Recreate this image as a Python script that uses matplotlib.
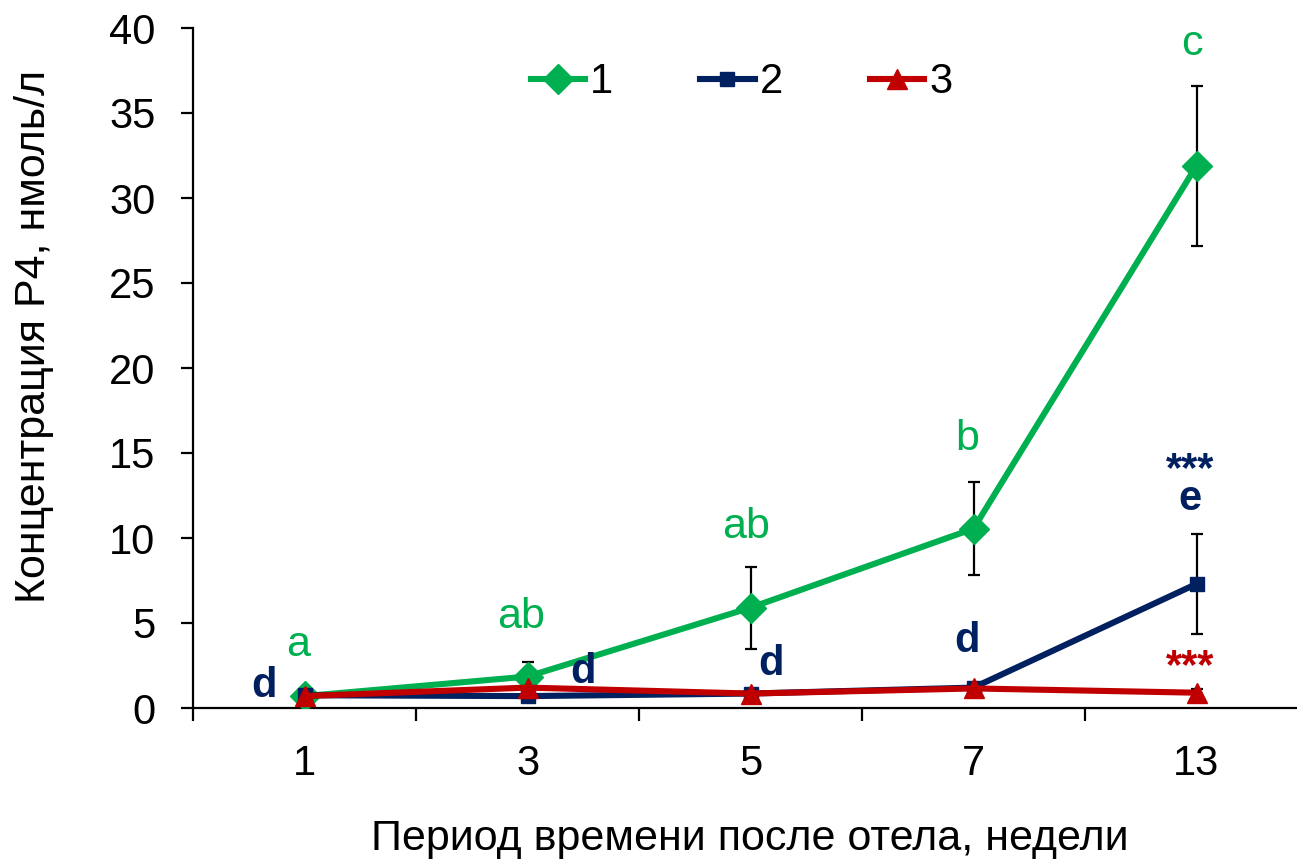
import matplotlib
matplotlib.use('Agg')
import matplotlib.pyplot as plt

plt.rcParams['font.family'] = ['Liberation Sans', 'DejaVu Sans']

weeks = ['1', '3', '5', '7', '13']
group1 = [0.7, 1.85, 5.9, 10.55, 31.9]
group1_err = [0.2, 0.85, 2.4, 2.75, 4.7]
group2 = [0.75, 0.7, 0.85, 1.2, 7.3]
group2_err = [0.2, 0.2, 0.2, 0.3, 2.95]
group3 = [0.7, 1.2, 0.85, 1.15, 0.9]
group3_err = [0.2, 0.3, 0.2, 0.2, 0.2]

green = '#00B050'
navy = '#002060'
red = '#C00000'

fig = plt.figure(figsize=(12.97, 8.61), dpi=100)
ax = fig.add_axes([193 / 1297, 153 / 861, 1115 / 1297, 680 / 861])

x = list(range(len(weeks)))

for vals, errs, col, mk, ms, lbl, z in [
        (group1, group1_err, green, 'D', 15, '1', 3),
        (group2, group2_err, navy, 's', 10, '2', 4),
        (group3, group3_err, red, '^', 15, '3', 5)]:
    ax.errorbar(x, vals, yerr=errs, fmt='none', ecolor='black', elinewidth=1.6,
                capsize=4.5, capthick=1.6, zorder=2)
    ax.plot(x, vals, color=col, lw=4.4, marker=mk, ms=ms, label=lbl, zorder=z)

ax.set_xlim(-0.5, 4.5)
ax.set_ylim(0, 40)
ax.set_yticks(range(0, 41, 5))
ax.set_xticks(x)
ax.set_xticklabels(weeks)
ax.set_xticks([i - 0.5 for i in range(len(weeks) + 1)], minor=True)

for s in ['top', 'right']:
    ax.spines[s].set_visible(False)
for s in ['left', 'bottom']:
    ax.spines[s].set_linewidth(1.6)

ax.tick_params(axis='y', direction='out', length=9, width=1.6, labelsize=30, pad=18)
ax.tick_params(axis='x', which='major', length=0, labelsize=30, pad=26)
ax.tick_params(axis='x', which='minor', direction='out', length=9, width=1.6)

ax.set_xlabel('Период времени после отела, недели', fontsize=31)
ax.xaxis.set_label_coords(0.4996, -0.163)
ax.set_ylabel('Концентрация Р4, нмоль/л', fontsize=31)
ax.yaxis.set_label_coords(-0.125, 0.546)

# significance letters
ax.text(-0.03, 3.06, 'a', color=green, fontsize=31, ha='center', va='baseline')
ax.text(0.97, 4.7, 'ab', color=green, fontsize=31, ha='center', va='baseline')
ax.text(1.98, 10.0, 'ab', color=green, fontsize=31, ha='center', va='baseline')
ax.text(2.97, 15.2, 'b', color=green, fontsize=31, ha='center', va='baseline')
ax.text(3.98, 38.4, 'c', color=green, fontsize=31, ha='center', va='baseline')

ax.text(-0.18, 0.65, 'd', color=navy, fontsize=30, fontweight='bold', ha='center', va='baseline')
ax.text(1.25, 1.47, 'd', color=navy, fontsize=30, fontweight='bold', ha='center', va='baseline')
ax.text(2.09, 1.94, 'd', color=navy, fontsize=30, fontweight='bold', ha='center', va='baseline')
ax.text(2.97, 3.3, 'd', color=navy, fontsize=30, fontweight='bold', ha='center', va='baseline')
ax.text(3.97, 11.65, 'e', color=navy, fontsize=30, fontweight='bold', ha='center', va='baseline')
ax.text(3.97, 14.0, '***', color=navy, fontsize=30, fontweight='bold', ha='center', va='center')
ax.text(3.97, 2.4, '***', color=red, fontsize=30, fontweight='bold', ha='center', va='center')

ax.legend(loc='center', bbox_to_anchor=(0.492, 0.92), ncol=3, frameon=False,
          fontsize=30, handlelength=1.3, handletextpad=0.12, columnspacing=2.1)

fig.savefig('out.png', dpi=100)
